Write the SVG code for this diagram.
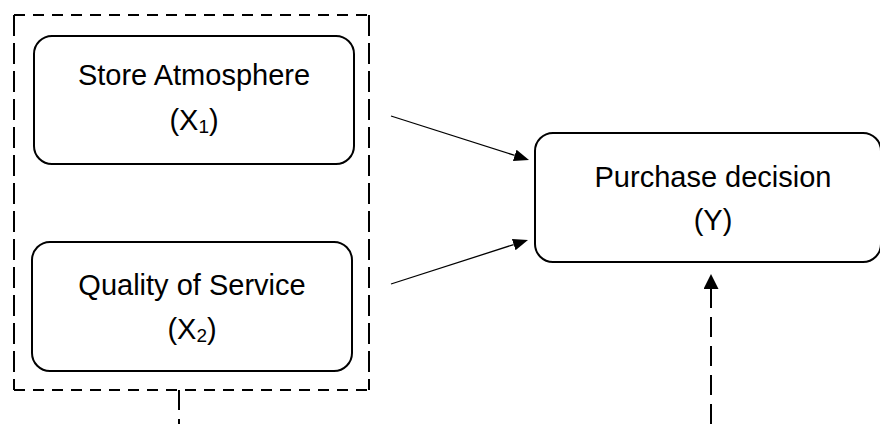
<svg xmlns="http://www.w3.org/2000/svg" width="880" height="424" viewBox="0 0 880 424">
<style>
.node rect{fill:#fff;stroke:#000;stroke-width:2}
text{font-family:"Liberation Sans",Arial,sans-serif;font-size:29px;fill:#000;text-anchor:middle}
.sub{font-size:19px}
.dh{stroke:#000;stroke-width:2;stroke-dasharray:11 8;fill:none}
.dv{stroke:#000;stroke-width:2;stroke-dasharray:21 7;fill:none}
.solid{stroke:#000;stroke-width:1.3;fill:none}
</style>
<defs>
<marker id="ah" markerUnits="userSpaceOnUse" markerWidth="16" markerHeight="13" refX="0" refY="6" orient="auto">
<path d="M0,0 L15,6 L0,12 z" fill="#000"/>
</marker>
<marker id="ahv" markerUnits="userSpaceOnUse" markerWidth="16" markerHeight="16" refX="0" refY="7.5" orient="auto">
<path d="M0,0 L15,7.5 L0,15 z" fill="#000"/>
</marker>
</defs>
<g id="group-box">
<line class="dh" x1="14" y1="15" x2="369" y2="15"/>
<line class="dh" x1="14" y1="390" x2="369" y2="390"/>
<line class="dv" x1="14" y1="15" x2="14" y2="390"/>
<line class="dv" x1="369" y1="15" x2="369" y2="390"/>
</g>
<g id="node-x1" class="node">
<rect x="34" y="36" width="320" height="128" rx="18"/>
<text x="194" y="85">Store Atmosphere</text>
<text x="194" y="130">(X<tspan class="sub" dy="3">1</tspan><tspan dy="-3">)</tspan></text>
</g>
<g id="node-x2" class="node">
<rect x="32" y="242" width="320" height="129" rx="18"/>
<text x="192" y="295">Quality of Service</text>
<text x="192" y="339">(X<tspan class="sub" dy="3">2</tspan><tspan dy="-3">)</tspan></text>
</g>
<g id="node-y" class="node">
<rect x="535" y="133" width="346" height="129" rx="18"/>
<text x="713" y="187">Purchase decision</text>
<text x="713" y="230">(Y)</text>
</g>
<g id="connectors">
<line class="solid" x1="391" y1="116" x2="514.7" y2="155.4" marker-end="url(#ah)"/>
<line class="solid" x1="391" y1="284" x2="513.7" y2="244.6" marker-end="url(#ah)"/>
<line stroke="#000" stroke-width="2" stroke-dasharray="20 9" x1="179" y1="390" x2="179" y2="424"/>
<line stroke="#000" stroke-width="2" stroke-dasharray="20 9" x1="711" y1="424" x2="711" y2="289" marker-end="url(#ahv)"/>
</g>
</svg>
